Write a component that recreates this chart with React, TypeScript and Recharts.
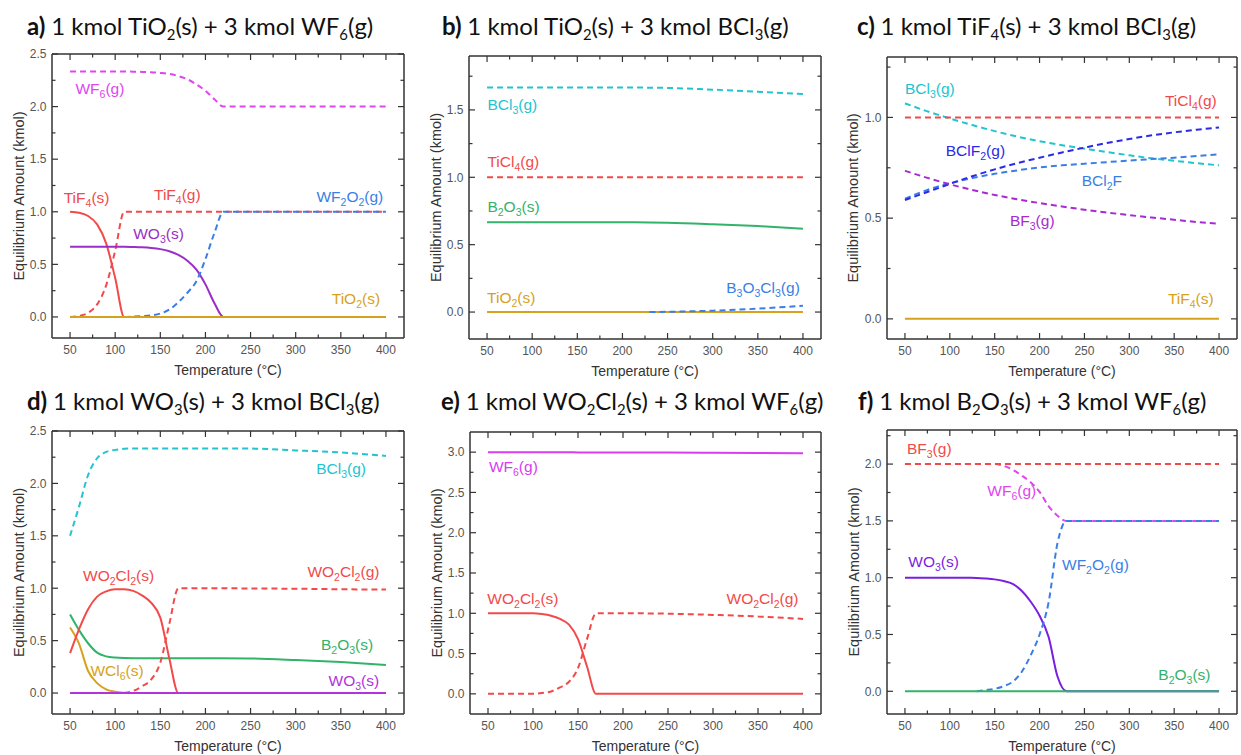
import React from 'react'
import { LineChart, Line, XAxis, YAxis, ReferenceDot } from 'recharts'

// temperature grid, tick labels
const X_TICKS = [50, 75, 100, 125, 150, 175, 200, 225, 250, 275, 300, 325, 350, 375, 400]
const X_MAJOR = [50, 100, 150, 200, 250, 300, 350, 400]

// a) TiO2 + WF6
const tempsA = [50, 60, 70, 80, 90, 100, 110, 120, 130, 140, 150, 160, 170, 180, 190, 200, 210, 220, 250, 300, 350, 400]
const aWF6 = [2.333, 2.333, 2.333, 2.333, 2.333, 2.333, 2.333, 2.332, 2.33, 2.327, 2.32, 2.31, 2.29, 2.26, 2.21, 2.15, 2.07, 2.0, 2.0, 2.0, 2.0, 2.0]
const aTiF4s = [1.0, 0.99, 0.96, 0.88, 0.7, 0.37, 0, 0, 0, 0, 0, 0, 0, 0, 0, 0, 0, 0, 0, 0, 0, 0]
const aTiF4g = [0, 0.01, 0.04, 0.12, 0.3, 0.63, 1, 1, 1, 1, 1, 1, 1, 1, 1, 1, 1, 1, 1, 1, 1, 1]
const aWO3 = [0.667, 0.667, 0.667, 0.667, 0.667, 0.667, 0.667, 0.665, 0.662, 0.656, 0.645, 0.625, 0.59, 0.535, 0.45, 0.31, 0.13, 0, 0, 0, 0, 0]
const aWF2O2 = [null, null, null, null, null, null, 0, 0.003, 0.008, 0.015, 0.033, 0.07, 0.14, 0.23, 0.34, 0.55, 0.8, 1, 1, 1, 1, 1]
const aTiO2 = [0, 0, 0, 0, 0, 0, 0, 0, 0, 0, 0, 0, 0, 0, 0, 0, 0, 0, 0, 0, 0, 0]

// b) TiO2 + BCl3
const tempsB = [50, 100, 150, 200, 230, 250, 300, 350, 400]
const bBCl3 = [1.667, 1.667, 1.667, 1.666, 1.665, 1.663, 1.65, 1.635, 1.617]
const bTiCl4 = [1, 1, 1, 1, 1, 1, 1, 1, 1]
const bB2O3 = [0.667, 0.667, 0.667, 0.666, 0.665, 0.663, 0.652, 0.638, 0.619]
const bB3O3Cl3 = [null, null, null, null, 0, 0.002, 0.01, 0.025, 0.047]
const bTiO2 = [0, 0, 0, 0, 0, 0, 0, 0, 0]

// c) TiF4 + BCl3
const tempsC = [50, 75, 100, 125, 150, 175, 200, 225, 250, 275, 300, 325, 350, 375, 400]
const cBCl3 = [1.07, 1.03, 0.995, 0.962, 0.932, 0.905, 0.882, 0.862, 0.845, 0.828, 0.812, 0.797, 0.785, 0.773, 0.762]
const cTiCl4 = [1, 1, 1, 1, 1, 1, 1, 1, 1, 1, 1, 1, 1, 1, 1]
const cBClF2 = [0.59, 0.63, 0.67, 0.708, 0.742, 0.773, 0.8, 0.826, 0.85, 0.873, 0.893, 0.911, 0.926, 0.939, 0.95]
const cBCl2F = [0.597, 0.64, 0.673, 0.699, 0.72, 0.737, 0.752, 0.762, 0.77, 0.778, 0.786, 0.793, 0.8, 0.808, 0.817]
const cBF3 = [0.735, 0.7, 0.668, 0.64, 0.615, 0.594, 0.575, 0.558, 0.542, 0.528, 0.515, 0.503, 0.492, 0.481, 0.472]
const cTiF4 = [0, 0, 0, 0, 0, 0, 0, 0, 0, 0, 0, 0, 0, 0, 0]

// d) WO3 + BCl3
const tempsD = [50, 60, 70, 80, 90, 100, 110, 120, 130, 140, 150, 160, 170, 200, 250, 300, 350, 400]
const dBCl3 = [1.5, 1.78, 2.08, 2.24, 2.3, 2.32, 2.33, 2.333, 2.333, 2.333, 2.333, 2.333, 2.333, 2.333, 2.332, 2.315, 2.295, 2.262]
const dWCl6 = [0.625, 0.47, 0.21, 0.095, 0.035, 0.012, 0.003, 0, 0, 0, 0, 0, 0, 0, 0, 0, 0, 0]
const dB2O3 = [0.75, 0.6, 0.475, 0.385, 0.35, 0.338, 0.334, 0.333, 0.333, 0.333, 0.333, 0.333, 0.333, 0.333, 0.33, 0.315, 0.295, 0.268]
const dWO2Cl2s = [0.38, 0.61, 0.8, 0.92, 0.97, 0.99, 0.99, 0.975, 0.93, 0.86, 0.72, 0.33, 0, 0, 0, 0, 0, 0]
const dWO2Cl2g = [null, null, null, null, null, null, 0, 0.02, 0.065, 0.13, 0.29, 0.66, 1, 1, 0.998, 0.995, 0.99, 0.987]
const dWO3 = [0, 0, 0, 0, 0, 0, 0, 0, 0, 0, 0, 0, 0, 0, 0, 0, 0, 0]

// e) WO2Cl2 + WF6
const tempsE = [50, 100, 110, 120, 130, 140, 150, 160, 170, 200, 250, 300, 350, 400]
const eWF6 = [3.0, 3.0, 3.0, 3.0, 3.0, 2.999, 2.997, 2.996, 2.995, 2.995, 2.995, 2.993, 2.99, 2.985]
const eWO2Cl2s = [1, 1, 0.99, 0.97, 0.93, 0.86, 0.68, 0.34, 0, 0, 0, 0, 0, 0]
const eWO2Cl2g = [0, 0, 0.01, 0.03, 0.08, 0.15, 0.32, 0.68, 1, 1, 0.995, 0.98, 0.96, 0.93]

// f) B2O3 + WF6
const tempsF = [50, 100, 110, 120, 130, 140, 150, 160, 170, 180, 190, 200, 210, 220, 230, 250, 300, 350, 400]
const fBF3 = [2, 2, 2, 2, 2, 2, 2, 2, 2, 2, 2, 2, 2, 2, 2, 2, 2, 2, 2]
const fWF6 = [2, 2, 2, 2, 2, 2, 2, 1.985, 1.95, 1.9, 1.84, 1.755, 1.63, 1.545, 1.5, 1.5, 1.5, 1.5, 1.5]
const fWO3 = [1, 1, 1, 0.999, 0.998, 0.993, 0.985, 0.97, 0.945, 0.885, 0.79, 0.665, 0.48, 0.13, 0, 0, 0, 0, 0]
const fWF2O2 = [null, null, null, null, 0, 0.01, 0.022, 0.045, 0.083, 0.17, 0.315, 0.5, 0.78, 1.305, 1.5, 1.5, 1.5, 1.5, 1.5]
const fB2O3 = [0, 0, 0, 0, 0, 0, 0, 0, 0, 0, 0, 0, 0, 0, 0, 0, 0, 0, 0]

// y ticks
const yTicks25 = [0, 0.25, 0.5, 0.75, 1, 1.25, 1.5, 1.75, 2, 2.25, 2.5]
const yTicks19 = [0, 0.25, 0.5, 0.75, 1, 1.25, 1.5, 1.75]
const yTicks13 = [0, 0.25, 0.5, 0.75, 1, 1.25]
const yTicks32 = [0, 0.25, 0.5, 0.75, 1, 1.25, 1.5, 1.75, 2, 2.25, 2.5, 2.75, 3]
const yTicks23 = [0, 0.25, 0.5, 0.75, 1, 1.25, 1.5, 1.75, 2, 2.25]
const Y_MAJOR = [0, 0.5, 1, 1.5, 2, 2.5, 3]

const RED = '#f24a4a'
const MAGENTA = '#e046f0'
const BLUE = '#3a7fe6'
const GOLD = '#d6a21e'
const CYAN = '#22c4cf'
const GREEN = '#33b26a'
const NAVY = '#2a2ae8'

const AXIS_COLOR = '#333'
const GAP = 8
const FONT = '"Liberation Sans", Arial, sans-serif'

type Series = { key: string; values: (number | null)[]; color: string; dashed?: boolean }
type Note = { text: string; x: number; y: number; color: string }
type Panel = {
  cell: [number, number, number, number]
  plot: [number, number, number, number]
  tag: string
  title: string
  titlePos: [number, number]
  temps: number[]
  series: Series[]
  yDomain: [number, number]
  yTicks: number[]
  yLabelX: number
  notes: Note[]
}

function ChemText({ x, y, text, size, fill, family, subScale = 0.68, subShift = 4, prefix }: any) {
  const parts = text.split(/(\{[^}]*\})/).filter((s: string) => s.length)
  let cur = 0
  return (
    <text x={x} y={y} fill={fill} fontSize={size} fontFamily={family} style={{ whiteSpace: 'pre' }}>
      {prefix && <tspan fontWeight={700}>{prefix + ' '}</tspan>}
      {parts.map((s: string, i: number) => {
        const sub = s.startsWith('{')
        const target = sub ? subShift : 0
        const dy = target - cur
        cur = target
        return (
          <tspan key={i} dy={dy} fontSize={sub ? size * subScale : size}>
            {sub ? s.slice(1, -1) : s}
          </tspan>
        )
      })}
    </text>
  )
}

function AxisTick(props: any) {
  const { x, y, payload, side } = props
  const v = payload.value
  const isMajor = (side === 'bottom' || side === 'top' ? X_MAJOR : Y_MAJOR).some(m => Math.abs(m - v) < 1e-6)
  const len = isMajor ? 6 : 3.5
  const ln = { stroke: AXIS_COLOR, strokeWidth: 1.2 }
  const txt = { fill: '#555', fontSize: 12, fontFamily: FONT }
  if (side === 'bottom') {
    const ay = y - GAP
    return (
      <g>
        <line x1={x} x2={x} y1={ay} y2={ay - len} {...ln} />
        {isMajor && <text x={x} y={ay + 16} textAnchor="middle" {...txt}>{v}</text>}
      </g>
    )
  }
  if (side === 'top') return <line x1={x} x2={x} y1={y} y2={y + len} {...ln} />
  if (side === 'left') {
    const ax = x + GAP
    return (
      <g>
        <line x1={ax} x2={ax + len} y1={y} y2={y} {...ln} />
        {isMajor && <text x={ax - 5.5} y={y + 4.3} textAnchor="end" {...txt}>{v.toFixed(1)}</text>}
      </g>
    )
  }
  return <line x1={x} x2={x - len} y1={y} y2={y} {...ln} />
}

const panels: Panel[] = [
  {
    cell: [0, 0, 415, 384], plot: [52, 54, 404, 338], tag: 'a)', title: '1 kmol TiO{2}(s) + 3 kmol WF{6}(g)', titlePos: [27, 35],
    temps: tempsA, yDomain: [-0.2, 2.5], yTicks: yTicks25, yLabelX: 24,
    series: [
      { key: 'WF6', values: aWF6, color: MAGENTA, dashed: true },
      { key: 'TiF4g', values: aTiF4g, color: RED, dashed: true },
      { key: 'TiF4s', values: aTiF4s, color: RED },
      { key: 'WO3', values: aWO3, color: '#9a2ec8' },
      { key: 'WF2O2', values: aWF2O2, color: BLUE, dashed: true },
      { key: 'TiO2', values: aTiO2, color: GOLD },
    ],
    notes: [
      { text: 'WF{6}(g)', x: 56, y: 2.12, color: MAGENTA },
      { text: 'TiF{4}(s)', x: 43, y: 1.08, color: RED },
      { text: 'TiF{4}(g)', x: 143, y: 1.11, color: RED },
      { text: 'WF{2}O{2}(g)', x: 323, y: 1.09, color: BLUE },
      { text: 'WO{3}(s)', x: 120, y: 0.74, color: '#9a2ec8' },
      { text: 'TiO{2}(s)', x: 340, y: 0.12, color: GOLD },
    ],
  },
  {
    cell: [415, 0, 415, 384], plot: [469, 56, 821, 339], tag: 'b)', title: '1 kmol TiO{2}(s) + 3 kmol BCl{3}(g)', titlePos: [27, 35],
    temps: tempsB, yDomain: [-0.2, 1.9], yTicks: yTicks19, yLabelX: 26,
    series: [
      { key: 'BCl3', values: bBCl3, color: CYAN, dashed: true },
      { key: 'TiCl4', values: bTiCl4, color: RED, dashed: true },
      { key: 'B2O3', values: bB2O3, color: GREEN },
      { key: 'TiO2', values: bTiO2, color: GOLD },
      { key: 'B3O3Cl3', values: bB3O3Cl3, color: BLUE, dashed: true },
    ],
    notes: [
      { text: 'BCl{3}(g)', x: 50.4, y: 1.5, color: CYAN },
      { text: 'TiCl{4}(g)', x: 50.4, y: 1.08, color: RED },
      { text: 'B{2}O{3}(s)', x: 50.4, y: 0.742, color: GREEN },
      { text: 'TiO{2}(s)', x: 50, y: 0.065, color: GOLD },
      { text: 'B{3}O{3}Cl{3}(g)', x: 315, y: 0.139, color: BLUE },
    ],
  },
  {
    cell: [830, 0, 411, 384], plot: [887, 57, 1237, 339], tag: 'c)', title: '1 kmol TiF{4}(s) + 3 kmol BCl{3}(g)', titlePos: [27, 34.5],
    temps: tempsC, yDomain: [-0.1, 1.3], yTicks: yTicks13, yLabelX: 28,
    series: [
      { key: 'BCl3', values: cBCl3, color: CYAN, dashed: true },
      { key: 'TiCl4', values: cTiCl4, color: RED, dashed: true },
      { key: 'BCl2F', values: cBCl2F, color: BLUE, dashed: true },
      { key: 'BClF2', values: cBClF2, color: NAVY, dashed: true },
      { key: 'BF3', values: cBF3, color: '#a82ad2', dashed: true },
      { key: 'TiF4', values: cTiF4, color: GOLD },
    ],
    notes: [
      { text: 'BCl{3}(g)', x: 50, y: 1.115, color: CYAN },
      { text: 'TiCl{4}(g)', x: 339.7, y: 1.058, color: RED },
      { text: 'BClF{2}(g)', x: 95.5, y: 0.81, color: NAVY },
      { text: 'BCl{2}F', x: 247, y: 0.661, color: BLUE },
      { text: 'BF{3}(g)', x: 167, y: 0.463, color: '#a82ad2' },
      { text: 'TiF{4}(s)', x: 343, y: 0.074, color: GOLD },
    ],
  },
  {
    cell: [0, 377, 415, 378], plot: [52, 431, 404, 714], tag: 'd)', title: '1 kmol WO{3}(s) + 3 kmol BCl{3}(g)', titlePos: [27, 33],
    temps: tempsD, yDomain: [-0.2, 2.5], yTicks: yTicks25, yLabelX: 24,
    series: [
      { key: 'BCl3', values: dBCl3, color: CYAN, dashed: true },
      { key: 'WCl6', values: dWCl6, color: GOLD },
      { key: 'B2O3', values: dB2O3, color: GREEN },
      { key: 'WO2Cl2g', values: dWO2Cl2g, color: RED, dashed: true },
      { key: 'WO2Cl2s', values: dWO2Cl2s, color: RED },
      { key: 'WO3', values: dWO3, color: '#b232dc' },
    ],
    notes: [
      { text: 'BCl{3}(g)', x: 322.7, y: 2.094, color: CYAN },
      { text: 'WO{2}Cl{2}(s)', x: 64.4, y: 1.073, color: RED },
      { text: 'WO{2}Cl{2}(g)', x: 313, y: 1.104, color: RED },
      { text: 'B{2}O{3}(s)', x: 328, y: 0.408, color: GREEN },
      { text: 'WCl{6}(s)', x: 72.6, y: 0.163, color: GOLD },
      { text: 'WO{3}(s)', x: 336.4, y: 0.067, color: '#b232dc' },
    ],
  },
  {
    cell: [415, 377, 415, 378], plot: [470, 432, 821, 714], tag: 'e)', title: '1 kmol WO{2}Cl{2}(s) + 3 kmol WF{6}(g)', titlePos: [26, 33.3],
    temps: tempsE, yDomain: [-0.25, 3.25], yTicks: yTicks32, yLabelX: 27,
    series: [
      { key: 'WF6', values: eWF6, color: '#d93cf2' },
      { key: 'WO2Cl2g', values: eWO2Cl2g, color: RED, dashed: true },
      { key: 'WO2Cl2s', values: eWO2Cl2s, color: RED },
    ],
    notes: [
      { text: 'WF{6}(g)', x: 51, y: 2.75, color: '#d93cf2' },
      { text: 'WO{2}Cl{2}(s)', x: 49.3, y: 1.117, color: RED },
      { text: 'WO{2}Cl{2}(g)', x: 315, y: 1.117, color: RED },
    ],
  },
  {
    cell: [830, 377, 411, 378], plot: [887, 430, 1237, 714], tag: 'f)', title: '1 kmol B{2}O{3}(s) + 3 kmol WF{6}(g)', titlePos: [28, 32.5],
    temps: tempsF, yDomain: [-0.2, 2.3], yTicks: yTicks23, yLabelX: 28.5,
    series: [
      { key: 'WF6', values: fWF6, color: MAGENTA, dashed: true },
      { key: 'BF3', values: fBF3, color: RED, dashed: true },
      { key: 'WO3', values: fWO3, color: '#7a1fe0' },
      { key: 'WF2O2', values: fWF2O2, color: BLUE, dashed: true },
      { key: 'B2O3', values: fB2O3, color: GREEN },
    ],
    notes: [
      { text: 'BF{3}(g)', x: 52.2, y: 2.086, color: RED },
      { text: 'WF{6}(g)', x: 141.8, y: 1.717, color: MAGENTA },
      { text: 'WO{3}(s)', x: 53.7, y: 1.097, color: '#7a1fe0' },
      { text: 'WF{2}O{2}(g)', x: 225, y: 1.068, color: BLUE },
      { text: 'B{2}O{3}(s)', x: 332.3, y: 0.1, color: GREEN },
    ],
  },
]

const axisLine = { stroke: AXIS_COLOR, strokeWidth: 1.5 }

function PanelChart({ p }: { p: Panel }) {
  const [cx, cy, cw, ch] = p.cell
  const [L, T, R, B] = p.plot
  const rows = p.temps.map((t, i) => {
    const r: any = { T: t }
    p.series.forEach(s => { r[s.key] = s.values[i] })
    return r
  })
  return (
    <div style={{ position: 'absolute', left: cx, top: cy, width: cw, height: ch }}>
      <LineChart width={cw} height={ch} data={rows} margin={{ top: T - cy - 1, right: cx + cw - R - 1, bottom: 0, left: 0 }}>
        <XAxis
          dataKey="T" type="number" domain={[30, 420]} ticks={X_TICKS} interval={0} height={cy + ch - B}
          tickSize={0} tickMargin={GAP} tickLine={false} axisLine={axisLine} allowDataOverflow
          tick={(t: any) => <AxisTick {...t} side="bottom" />}
          label={(lp: any) => (
            <g>
              <text x={lp.viewBox.x + lp.viewBox.width / 2} y={lp.viewBox.y + 37} textAnchor="middle" fill="#333" fontSize={14} fontFamily={FONT}>
                Temperature (°C)
              </text>
              <ChemText x={p.titlePos[0]} y={p.titlePos[1]} text={p.title} prefix={p.tag} size={24} fill="#111" family="Lato, sans-serif" subScale={0.62} subShift={5} />
            </g>
          )}
        />
        <XAxis
          xAxisId="top" orientation="top" dataKey="T" type="number" domain={[30, 420]} ticks={X_TICKS} interval={0} height={1}
          tickSize={0} tickMargin={0} tickLine={false} axisLine={axisLine} allowDataOverflow
          tick={(t: any) => <AxisTick {...t} side="top" />}
        />
        <YAxis
          type="number" domain={p.yDomain} ticks={p.yTicks} interval={0} width={L - cx}
          tickSize={0} tickMargin={GAP} tickLine={false} axisLine={axisLine} allowDataOverflow
          tick={(t: any) => <AxisTick {...t} side="left" />}
          label={(lp: any) => {
            const yc = lp.viewBox.y + lp.viewBox.height / 2
            return (
              <text x={p.yLabelX} y={yc} transform={`rotate(-90 ${p.yLabelX} ${yc})`} textAnchor="middle" fill="#333" fontSize={14.5} fontFamily={FONT}>
                Equilibrium Amount (kmol)
              </text>
            )
          }}
        />
        <YAxis
          yAxisId="right" orientation="right" type="number" domain={p.yDomain} ticks={p.yTicks} interval={0} width={1}
          tickSize={0} tickMargin={0} tickLine={false} axisLine={axisLine} allowDataOverflow
          tick={(t: any) => <AxisTick {...t} side="right" />}
        />
        {p.series.map(s => (
          <Line
            key={s.key} dataKey={s.key} type="monotone" stroke={s.color} strokeWidth={2}
            strokeDasharray={s.dashed ? '6 4' : undefined} dot={false} activeDot={false}
            isAnimationActive={false} connectNulls={false}
          />
        ))}
        {p.notes.map((n, i) => (
          <ReferenceDot
            key={i} x={n.x} y={n.y} r={0} fill="none" stroke="none" ifOverflow="visible"
            label={(lp: any) => (
              <ChemText x={lp.viewBox.x} y={lp.viewBox.y} text={n.text} size={15.5} fill={n.color} family={FONT} />
            )}
          />
        ))}
      </LineChart>
    </div>
  )
}

export default function App() {
  return (
    <div style={{ position: 'absolute', left: 0, top: 0, width: 1241, height: 755, background: '#fff' }}>
      {panels.map((p, i) => <PanelChart key={i} p={p} />)}
    </div>
  )
}
